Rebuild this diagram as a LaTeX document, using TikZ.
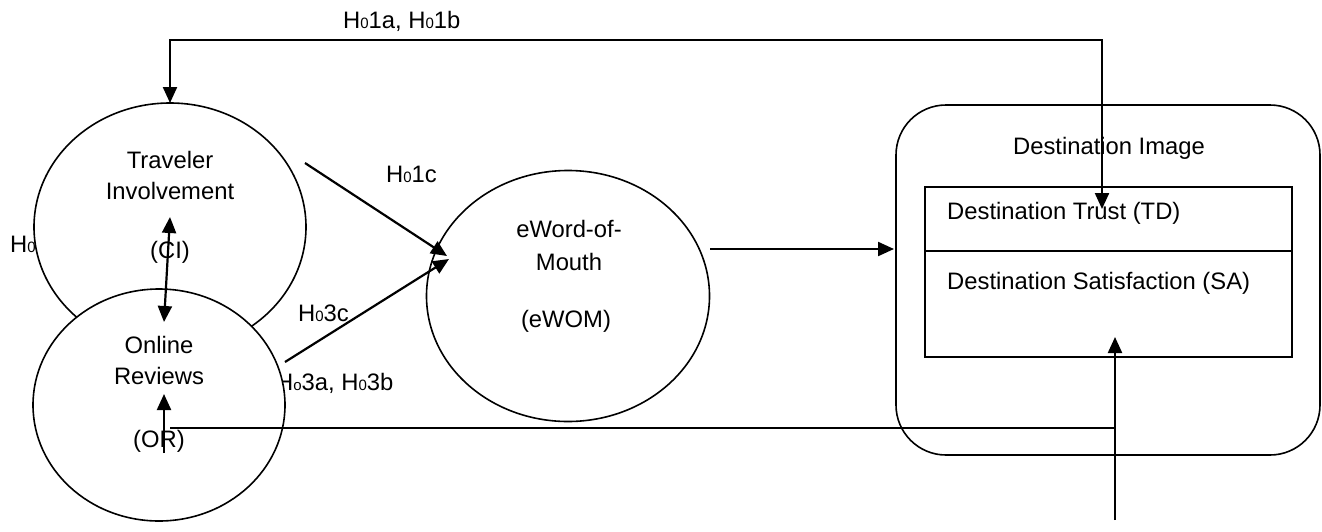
\documentclass[tikz,border=0pt]{standalone}
\usepackage{fontspec}
\setmainfont{Liberation Sans}
\usetikzlibrary{arrows.meta,shapes.geometric}
\newcommand{\Hz}{H{\fontsize{15}{15}\selectfont 0}}
\newcommand{\Ho}{H{\fontsize{15}{15}\selectfont o}}
\tikzset{
  every node/.style={font=\fontsize{23.8}{27}\selectfont, inner sep=0pt},
  construct/.style={ellipse, draw, line width=1.6pt, inner sep=0pt},
  link/.style={line width=2.2pt, -{Triangle[length=16pt,width=14pt]}},
  both/.style={line width=2.2pt, {Triangle[length=16pt,width=14pt]}-{Triangle[length=16pt,width=14pt]}},
  plain/.style={line width=1.6pt},
  lbl/.style={anchor=base west},
  ctr/.style={anchor=base}
}
\begin{document}
\begin{tikzpicture}[x=1pt,y=-1pt]
\useasboundingbox (0,0) rectangle (1322,531);

% Traveler Involvement construct
\node[construct, minimum width=272pt, minimum height=248pt] (ti) at (170,227) {};
\node[ctr] (tit1) at (170,168) {Traveler};
\node[ctr] (tit2) at (170,199) {Involvement};
\node[ctr] (tit3) at (170,258) {(CI)};
\node[lbl] (h0) at (10,252) {\Hz};

% label partly hidden behind the Online Reviews construct
\node[lbl] (h3ab) at (276,390) {\Ho3a, \Hz3b};

% Online Reviews construct (drawn on top, white fill)
\node[construct, fill=white, minimum width=252pt, minimum height=232pt] (or) at (159,405) {};
\node[ctr] (ort1) at (159,353) {Online};
\node[ctr] (ort2) at (159,384) {Reviews};
\node[ctr] (ort3) at (159,447) {(OR)};

% eWOM construct
\node[construct, minimum width=283pt, minimum height=251pt] (ew) at (568,296) {};
\node[ctr] (ewt1) at (569,237) {eWord-of-};
\node[ctr] (ewt2) at (569,270) {Mouth};
\node[ctr] (ewt3) at (566,327) {(eWOM)};

% Destination Image block
\draw[plain, rounded corners=50pt] (896,105) rectangle (1320,455);
\node[ctr] (dit) at (1109,154) {Destination Image};
\node[draw, line width=1.6pt, minimum width=367pt, minimum height=64pt] (td) at (1108.5,219) {};
\node[draw, line width=1.6pt, minimum width=367pt, minimum height=106pt] (sa) at (1108.5,304) {};
\node[lbl] (tdt) at (947,219) {Destination Trust (TD)};
\node[lbl] (sat) at (947,289) {Destination Satisfaction (SA)};

% hypothesis labels
\node[lbl] (h1ab) at (343,28) {\Hz1a, \Hz1b};
\node[lbl] (h1c) at (386,182) {\Hz1c};
\node[lbl] (h3c) at (298,321) {\Hz3c};

% connector end points
\coordinate (tiA) at (305,163);
\coordinate (ewA) at (447,256);
\coordinate (orA) at (285,362);
\coordinate (ewB) at (449,259);
\coordinate (ewR) at (710,249);
\coordinate (diL) at (894,249);
\coordinate (topL) at (170,40);
\coordinate (topR) at (1102,40);
\coordinate (tiTop) at (170,103);
\coordinate (tdIn) at (1102,209);
\coordinate (ciUp) at (170,217);
\coordinate (orDn) at (164,322);
\coordinate (botS) at (1115,520);
\coordinate (saIn) at (1115,337);
\coordinate (botJ) at (1115,428);
\coordinate (botL) at (170,428);
\coordinate (orS) at (164,453);
\coordinate (orIn) at (164,394);

% connectors
\draw[link] (tiA) -- (ewA);
\draw[link] (orA) -- (ewB);
\draw[link] (ewR) -- (diL);
\draw[both] (tiTop) -- (topL) -- (topR) -- (tdIn);
\draw[both] (ciUp) -- (orDn);
\draw[link] (botS) -- (saIn);
\draw[plain] (botJ) -- (botL);
\draw[link] (orS) -- (orIn);
\end{tikzpicture}
\end{document}
